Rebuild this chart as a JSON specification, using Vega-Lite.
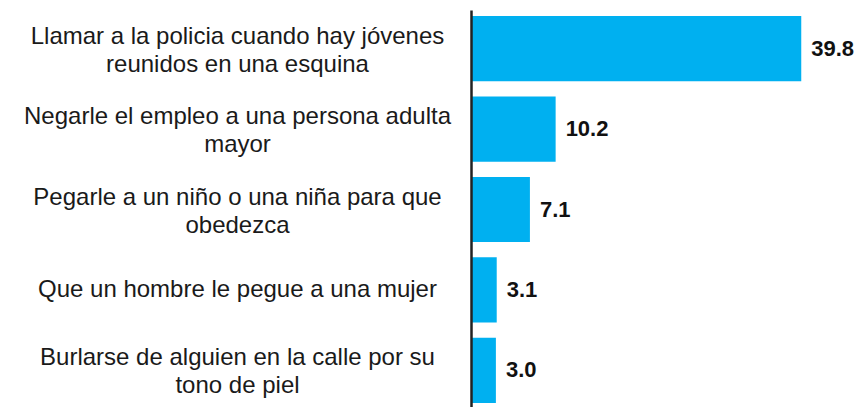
{
  "$schema": "https://vega.github.io/schema/vega-lite/v6.json",
  "width": 390,
  "height": 399,
  "autosize": {"type": "none"},
  "padding": {"left": 471, "top": 10, "right": 0, "bottom": 0},
  "background": "white",
  "config": {"view": {"stroke": null}},
  "data": {
    "values": [
      {"accion": "Llamar a la policia cuando hay jóvenes|reunidos en una esquina", "valor": 39.8},
      {"accion": "Negarle el empleo a una persona adulta|mayor", "valor": 10.2},
      {"accion": "Pegarle a un niño o una niña para que|obedezca", "valor": 7.1},
      {"accion": "Que un hombre le pegue a una mujer", "valor": 3.1},
      {"accion": "Burlarse de alguien en la calle por su|tono de piel", "valor": 3.0}
    ]
  },
  "encoding": {
    "y": {
      "field": "accion",
      "type": "nominal",
      "sort": null,
      "scale": {"paddingInner": 0.19, "paddingOuter": 0.075},
      "axis": {
        "title": null,
        "zindex": 1,
        "domain": true,
        "domainColor": "#222222",
        "domainWidth": 2.5,
        "ticks": false,
        "tickSize": 0,
        "labelAlign": "center",
        "labelBaseline": "middle",
        "labelPadding": 234,
        "labelOffset": {"condition": {"test": "indexof(datum.label, '|') >= 0", "value": -12}, "value": 0},
        "labelFont": "Liberation Sans",
        "labelFontSize": 24,
        "labelColor": "#1a1a1a",
        "labelLineHeight": 28,
        "labelLimit": 0,
        "labelExpr": "split(datum.label, '|')"
      }
    },
    "x": {
      "field": "valor",
      "type": "quantitative",
      "scale": {"domain": [0, 47], "nice": false},
      "axis": null
    }
  },
  "layer": [
    {"mark": {"type": "bar", "color": "#00B0F0"}},
    {
      "mark": {
        "type": "text",
        "align": "left",
        "baseline": "middle",
        "dx": 10,
        "font": "Liberation Sans",
        "fontSize": 22,
        "fontWeight": "bold",
        "color": "#111111"
      },
      "encoding": {"text": {"field": "valor", "type": "quantitative", "format": ".1f"}}
    }
  ]
}
